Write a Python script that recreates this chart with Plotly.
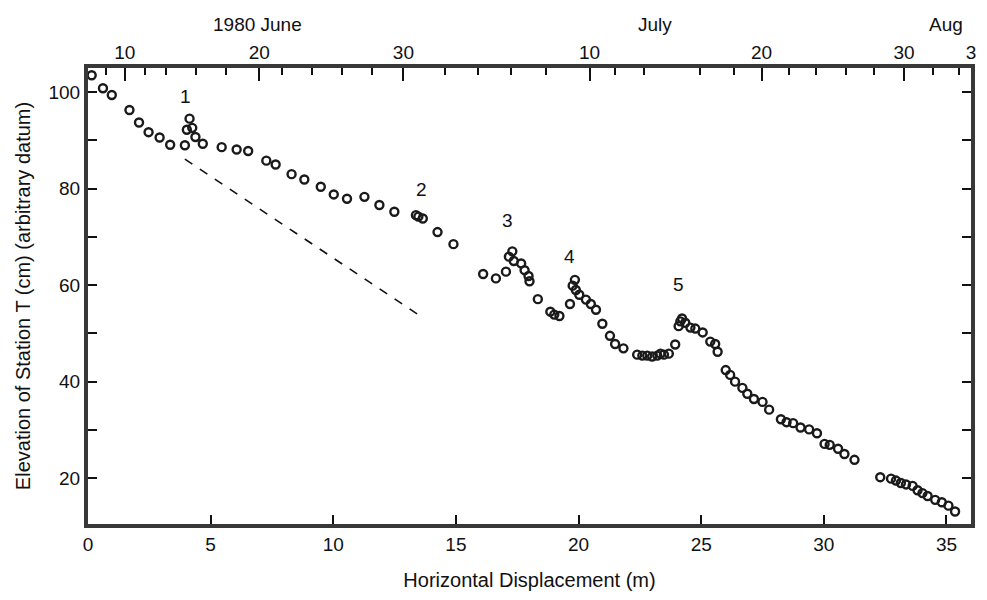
import plotly.graph_objects as go

# Station T elevation vs horizontal displacement
disp_m = [0.15, 0.61, 0.97, 1.69, 2.08, 2.47, 2.92, 3.35, 3.95, 4.03, 4.14, 4.25, 4.38, 4.68,
          5.45, 6.06, 6.53, 7.27, 7.65, 8.30, 8.82, 9.49, 10.02, 10.56, 11.27, 11.88, 12.49,
          13.37, 13.47, 13.65, 14.25, 14.90, 16.11, 16.63, 17.04, 17.16, 17.30, 17.36, 17.66,
          17.80, 17.96, 18.00, 18.34, 18.85, 19.01, 19.22, 19.65, 19.76, 19.85, 19.89, 20.03,
          20.30, 20.50, 20.71, 20.97, 21.28, 21.49, 21.83, 22.39, 22.60, 22.80, 23.00, 23.21,
          23.34, 23.48, 23.68, 23.94, 24.08, 24.15, 24.22, 24.35, 24.56, 24.76, 25.06, 25.37,
          25.57, 25.67, 26.00, 26.18, 26.38, 26.68, 26.88, 27.15, 27.50, 27.77, 28.25, 28.48,
          28.75, 29.05, 29.40, 29.72, 30.03, 30.24, 30.58, 30.84, 31.25, 32.30, 32.74, 32.94,
          33.14, 33.35, 33.62, 33.82, 34.02, 34.23, 34.54, 34.81, 35.08, 35.35]
elev_cm = [103.5, 100.8, 99.4, 96.3, 93.7, 91.7, 90.6, 89.1, 89.0, 92.2, 94.5, 92.6, 90.7, 89.3,
           88.6, 88.1, 87.8, 85.8, 85.0, 83.0, 81.9, 80.4, 78.8, 77.9, 78.3, 76.6, 75.2,
           74.5, 74.2, 73.8, 71.0, 68.5, 62.3, 61.4, 62.8, 65.9, 67.0, 65.0, 64.5,
           63.1, 61.9, 60.8, 57.1, 54.5, 53.9, 53.6, 56.1, 59.9, 61.1, 59.0, 58.0,
           57.0, 56.1, 54.9, 52.0, 49.5, 47.8, 46.9, 45.6, 45.4, 45.4, 45.2, 45.4,
           45.8, 45.6, 45.8, 47.7, 51.5, 52.5, 53.1, 52.2, 51.2, 51.0, 50.2, 48.3,
           47.8, 46.2, 42.4, 41.4, 40.0, 38.7, 37.5, 36.4, 35.8, 34.2, 32.2, 31.6,
           31.4, 30.5, 30.1, 29.3, 27.1, 26.9, 26.1, 25.0, 23.8, 20.2, 19.9, 19.5,
           19.0, 18.7, 18.4, 17.5, 16.9, 16.3, 15.5, 15.0, 14.3, 13.1]

# dashed reference line
ref_x = [3.95, 13.55]
ref_y = [86.1, 53.6]

# event labels
event_labels = ["1", "2", "3", "4", "5"]
event_x = [3.98, 13.6, 17.12, 19.65, 24.06]
event_y = [99.0, 79.9, 73.4, 65.9, 60.2]

# top date axis (positions in displacement units)
date_major_x = [1.50, 6.98, 12.86, 20.45, 27.46, 33.27, 36.0]
date_major_text = ["10", "20", "30", "10", "20", "30", "3"]
date_minor_x = [0.73, 2.31, 3.20, 4.42, 5.64, 7.91, 9.13, 10.34, 11.56, 14.56, 15.90, 17.24,
                18.66, 21.50, 22.68, 24.95, 26.33, 28.60, 29.70, 30.91, 32.05, 34.44, 35.50]
month_labels = ["1980 June", "July", "Aug"]
month_x = [6.9, 23.1, 34.97]

FONT = "Liberation Sans, Arial, sans-serif"
INK = "#111"
FRAME = "#383838"

fig = go.Figure()
fig.add_trace(go.Scatter(x=ref_x, y=ref_y, mode="lines",
                         line=dict(color=INK, width=1.6, dash="dash"), hoverinfo="skip",
                         showlegend=False))
fig.add_trace(go.Scatter(x=disp_m, y=elev_cm, mode="markers",
                         marker=dict(symbol="circle-open", size=8, color="#1a1a1a",
                                     line=dict(width=2.4, color="#1a1a1a")),
                         showlegend=False))
# invisible trace to anchor top axis
fig.add_trace(go.Scatter(x=[0, 36], y=[50, 50], xaxis="x2", mode="markers",
                         marker=dict(opacity=0), hoverinfo="skip", showlegend=False))

for t, x, y in zip(event_labels, event_x, event_y):
    fig.add_annotation(x=x, y=y, text=t, showarrow=False,
                       font=dict(family=FONT, size=19, color=INK))
for t, x in zip(month_labels, month_x):
    fig.add_annotation(x=x, xref="x", y=1.095, yref="paper", text=t, showarrow=False,
                       font=dict(family=FONT, size=19, color=INK), yanchor="middle")

fig.update_layout(
    width=987, height=600,
    margin=dict(l=88, r=11, t=68, b=72),
    paper_bgcolor="white", plot_bgcolor="white",
    font=dict(family=FONT, size=19, color=INK),
    xaxis=dict(range=[0, 36], tickvals=[0, 5, 10, 15, 20, 25, 30, 35],
               ticks="inside", ticklen=9, tickwidth=2, tickcolor=INK,
               showline=True, linewidth=4, linecolor=FRAME, mirror=True,
               showgrid=False, zeroline=False,
               title=dict(text="Horizontal Displacement (m)", standoff=20,
                          font=dict(family=FONT, size=20))),
    xaxis2=dict(range=[0, 36], overlaying="x", side="top", anchor="y",
                tickmode="array", tickvals=date_major_x, ticktext=date_major_text,
                ticks="inside", ticklen=13, tickwidth=2, tickcolor=INK,
                ticklabelstandoff=4,
                minor=dict(tickmode="array", tickvals=date_minor_x, ticks="inside",
                           ticklen=7, tickwidth=2, tickcolor=INK),
                showline=False, showgrid=False, zeroline=False),
    yaxis=dict(range=[10.5, 105], tickvals=[20, 40, 60, 80, 100],
               ticks="inside", ticklen=9, tickwidth=2, tickcolor=INK,
               minor=dict(tickmode="array", tickvals=[30, 50, 70, 90], ticks="inside",
                          ticklen=9, tickwidth=2, tickcolor=INK),
               showline=True, linewidth=4, linecolor=FRAME, mirror="ticks",
               showgrid=False, zeroline=False,
               title=dict(text="Elevation of Station T (cm) (arbitrary datum)", standoff=13,
                          font=dict(family=FONT, size=20))),
)

fig.write_html("out.html")
